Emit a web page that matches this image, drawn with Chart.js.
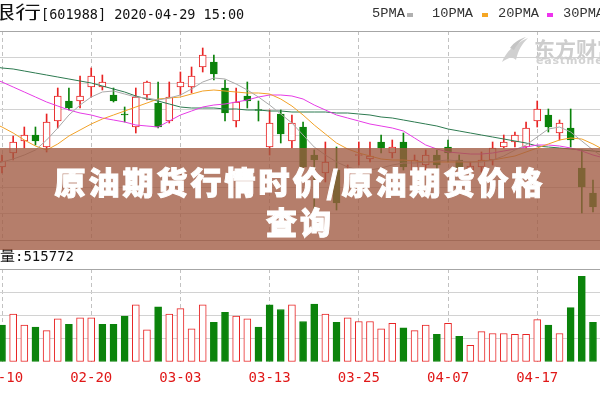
<!DOCTYPE html>
<html><head><meta charset="utf-8">
<script src="https://cdn.jsdelivr.net/npm/chart.js@4.4.1/dist/chart.umd.min.js"></script>
<style>
html,body{margin:0;padding:0;background:#fff;}
body{width:600px;height:400px;position:relative;overflow:hidden;}
canvas{position:absolute;left:0;}
#pc{top:0;}
#vc{top:250px;}
#hdr{position:absolute;left:5px;top:1px;font-family:"DejaVu Sans Mono";font-size:13.5px;line-height:20px;white-space:nowrap;color:#111;}
#hdr .cjk{font-family:"Noto Sans CJK SC";font-size:18px;display:inline-block;transform:scaleX(1.45);transform-origin:right center;}
.lg{position:absolute;top:4px;font-family:"Liberation Mono";font-size:13.7px;line-height:20px;color:#333;white-space:nowrap;}
.dash{position:absolute;top:13px;width:6px;height:4px;}
#vol{position:absolute;left:0;top:245px;font-family:"DejaVu Sans Mono";font-size:14px;line-height:20px;color:#111;white-space:nowrap;}
#vol .cjk{font-family:"Noto Sans CJK SC";font-size:15px;}
#wm1{position:absolute;left:534px;top:33px;font-family:"Noto Sans CJK SC";font-weight:700;font-size:21px;color:#cdcdcd;white-space:nowrap;}
#wm2{position:absolute;left:536px;top:54px;font-family:"DejaVu Sans";font-weight:700;font-size:11px;color:#d2d2d2;white-space:nowrap;letter-spacing:0.8px;}
#logo{position:absolute;left:500px;top:36px;}
#banner{position:absolute;left:0;top:148px;width:600px;height:102px;background:rgba(160,90,65,0.78);}
#banner div{padding-top:13px;text-align:center;color:#fff;font-family:"Noto Sans CJK SC";font-weight:900;font-size:31px;line-height:40px;letter-spacing:3px;-webkit-text-stroke:1px #fff;}
</style></head>
<body>
<canvas id="pc" width="600" height="250"></canvas>
<canvas id="vc" width="600" height="150"></canvas>
<div id="hdr"><span class="cjk">银行</span>[601988] 2020-04-29 15:00</div>
<div class="lg" style="left:372px">5PMA</div><div class="dash" style="left:407px;background:#b0b0b0"></div>
<div class="lg" style="left:432px">10PMA</div><div class="dash" style="left:482px;background:#f5a623"></div>
<div class="lg" style="left:498px">20PMA</div><div class="dash" style="left:547px;background:#ee33ee"></div>
<div class="lg" style="left:563px">30PMA</div>
<svg id="logo" width="32" height="28" viewBox="0 0 32 28"><path d="M2 26 C6 16 14 8 28 2 C22 8 18 14 16 24 C12 20 8 22 2 26 Z" fill="#d0d0d0"/><path d="M10 12 C14 6 20 3 26 1 C20 5 16 9 14 14 Z" fill="#c4c4c4"/></svg>
<div id="wm1">东方财富</div>
<div id="wm2">eastmoney</div>
<div id="vol"><span class="cjk">量</span>:515772</div>
<div id="banner"><div>原油期货行情时价/原油期货价格<br>查询</div></div>
<script>
// trading days shown (index 0 = 02-10)
const dates = ['02-10','02-11','02-12','02-13','02-14','02-17','02-18','02-19','02-20','02-21','02-24','02-25','02-26','02-27','02-28','03-02','03-03','03-04','03-05','03-06','03-09','03-10','03-11','03-12','03-13','03-16','03-17','03-18','03-19','03-20','03-23','03-24','03-25','03-26','03-27','03-30','03-31','04-01','04-02','04-03','04-07','04-08','04-09','04-10','04-13','04-14','04-15','04-16','04-17','04-20','04-21','04-22','04-23','04-24'];
const dateTicks = [0,8,16,24,32,40,48];

const open  = [3.484,3.498,3.510,3.516,3.504,3.530,3.550,3.550,3.564,3.564,3.556,3.537,3.524,3.556,3.548,3.530,3.564,3.564,3.584,3.589,3.563,3.530,3.555,3.5415,3.504,3.537,3.510,3.524,3.496,3.478,3.481,3.473,3.4955,3.492,3.509,3.498,3.509,3.479,3.486,3.496,3.504,3.491,3.481,3.484,3.491,3.504,3.509,3.504,3.530,3.536,3.518,3.523,3.483,3.458];
const high  = [3.496,3.515,3.524,3.524,3.537,3.563,3.563,3.575,3.583,3.576,3.563,3.544,3.563,3.570,3.569,3.569,3.579,3.584,3.603,3.596,3.571,3.563,3.569,3.550,3.541,3.541,3.536,3.529,3.501,3.509,3.504,3.486,3.509,3.509,3.516,3.511,3.518,3.496,3.501,3.501,3.511,3.496,3.489,3.499,3.509,3.516,3.519,3.529,3.550,3.542,3.531,3.542,3.501,3.471];
const low   = [3.478,3.491,3.503,3.506,3.499,3.523,3.541,3.543,3.554,3.561,3.549,3.529,3.518,3.551,3.523,3.528,3.556,3.558,3.579,3.571,3.530,3.524,3.543,3.530,3.496,3.508,3.503,3.481,3.438,3.469,3.441,3.468,3.486,3.489,3.498,3.493,3.481,3.473,3.481,3.479,3.489,3.479,3.477,3.479,3.486,3.503,3.504,3.503,3.524,3.519,3.511,3.504,3.438,3.439];
const close = [3.490,3.509,3.516,3.510,3.529,3.555,3.543,3.555,3.575,3.569,3.550,3.536,3.554,3.569,3.524,3.554,3.569,3.575,3.596,3.577,3.538,3.549,3.550,3.5405,3.528,3.517,3.528,3.484,3.491,3.489,3.448,3.478,3.4965,3.495,3.503,3.504,3.484,3.491,3.496,3.486,3.498,3.483,3.485,3.491,3.503,3.509,3.516,3.523,3.542,3.524,3.528,3.511,3.464,3.444];

// moving averages, first value belongs to the day before 02-10 (index -1)
const maStart = -1;
const ma5  = [3.485,3.489,3.492,3.496,3.501,3.511,3.523,3.536,3.546,3.554,3.559,3.560,3.557,3.554,3.553,3.551,3.553,3.556,3.562,3.569,3.573,3.572,3.567,3.561,3.554,3.546,3.537,3.528,3.516,3.504,3.496,3.489,3.484,3.481,3.481,3.483,3.486,3.488,3.488,3.489,3.490,3.491,3.490,3.489,3.489,3.491,3.495,3.501,3.506,3.514,3.522,3.524,3.519,3.510,3.501,3.493];
const ma10 = [3.529,3.524,3.518,3.511,3.505,3.501,3.507,3.515,3.521,3.527,3.532,3.536,3.540,3.544,3.548,3.552,3.553,3.554,3.557,3.560,3.561,3.560,3.559,3.558,3.558,3.557,3.552,3.545,3.536,3.526,3.517,3.508,3.502,3.498,3.495,3.492,3.491,3.491,3.490,3.489,3.489,3.489,3.489,3.489,3.490,3.491,3.493,3.495,3.499,3.503,3.507,3.511,3.513,3.512,3.507,3.501];
const ma20 = [3.573,3.569,3.564,3.559,3.554,3.549,3.545,3.541,3.538,3.536,3.533,3.531,3.529,3.526,3.525,3.524,3.530,3.536,3.540,3.544,3.546,3.547,3.549,3.551,3.554,3.556,3.556,3.555,3.552,3.546,3.541,3.536,3.533,3.530,3.527,3.525,3.523,3.520,3.513,3.506,3.502,3.499,3.498,3.497,3.497,3.498,3.500,3.502,3.504,3.506,3.506,3.505,3.503,3.500,3.496,3.493];
const ma30 = [3.585,3.583,3.582,3.580,3.578,3.576,3.574,3.572,3.570,3.568,3.565,3.562,3.559,3.555,3.552,3.550,3.547,3.544,3.543,3.543,3.543,3.542,3.542,3.541,3.541,3.540,3.540,3.539,3.539,3.539,3.539,3.538,3.538,3.537,3.536,3.534,3.533,3.531,3.529,3.527,3.525,3.522,3.520,3.518,3.516,3.514,3.512,3.510,3.508,3.505,3.504,3.503,3.502,3.501,3.500,3.499];

// volume (lots) and its colour flag (1 = red, 0 = green)
const volume = [400000,520000,400000,380000,340000,470000,410000,480000,480000,410000,410000,500000,620000,350000,600000,520000,580000,360000,620000,430000,540000,500000,470000,380000,620000,570000,620000,440000,630000,520000,430000,480000,440000,440000,360000,420000,370000,340000,400000,300000,420000,280000,180000,330000,310000,310000,300000,300000,460000,400000,310000,590000,930000,430000];
const volUp  = [0,1,1,0,1,1,0,1,1,0,0,0,1,1,0,1,1,1,1,0,0,1,1,0,0,0,1,0,0,1,0,1,1,1,1,1,0,1,1,0,1,0,1,1,1,1,1,1,1,0,1,0,0,0];

const priceGrid = [3.411,3.4371,3.4633,3.4894,3.5155,3.5416,3.5678,3.5939,3.620];
const volGrid = [0,252500,505000,757500,1010000];

const RED = '#e82424', GREEN = '#0b830b';
const XMIN = -0.18, XMAX = 53.63;

const idx = dates.map((_, i) => i);
const up = idx.map(i => close[i] >= open[i]);
const bodies = idx.map(i => ({x: i, y: [open[i], close[i]]}));
const wicks = idx.map(i => ({x: i, y: [low[i], high[i]]}));
const maPts = arr => arr.map((v, k) => ({x: k + maStart, y: v}));
const vols = idx.map(i => ({x: i, y: volume[i]}));

const lineDs = (arr, color, order) => ({type: 'line', data: maPts(arr), borderColor: color, borderWidth: 1, pointRadius: 0, tension: 0, order: order});

const xScale = (showLabels) => ({
  type: 'linear', min: XMIN, max: XMAX, offset: false,
  grid: {color: '#c2c2c2', drawTicks: false, offset: false, borderDash: [4, 3]},
  border: {display: false, dash: [4, 3]},
  ticks: showLabels ? {display: true, autoSkip: false, maxRotation: 0, padding: 8, color: '#e01818',
    font: {family: 'DejaVu Sans Mono', size: 14}, callback: v => dates[v]} : {display: false},
  afterBuildTicks: s => { s.ticks = dateTicks.map(v => ({value: v})); },
  afterFit: s => { s.paddingLeft = 0; s.paddingRight = 0; }
});

const common = {
  responsive: false, animation: false, devicePixelRatio: 1, events: [],
  plugins: {legend: {display: false}, tooltip: {enabled: false}}
};

new Chart(document.getElementById('pc'), {
  type: 'bar',
  data: {datasets: [
    lineDs(ma5, '#a9a9a9', -4),
    lineDs(ma10, '#f2a228', -3),
    lineDs(ma20, '#e63ce6', -2),
    lineDs(ma30, '#2d7a50', -1),
    {data: bodies, backgroundColor: up.map(u => u ? '#ffffff' : GREEN), borderColor: up.map(u => u ? RED : GREEN),
     borderWidth: 1, borderSkipped: false, barThickness: 7, grouped: false, order: 0},
    {data: wicks, backgroundColor: up.map(u => u ? RED : GREEN), borderWidth: 0, barThickness: 1, grouped: false, order: 1}
  ]},
  options: Object.assign({}, common, {
    layout: {padding: {top: 31, bottom: 10, left: 0, right: 0}},
    scales: {
      x: xScale(false),
      y: {min: priceGrid[0], max: priceGrid[priceGrid.length - 1],
        grid: {color: c => (c.index === 0 || c.index === priceGrid.length - 1) ? '#a6a6a6' : '#d2d2d2', drawTicks: false},
        border: {display: false}, ticks: {display: false},
        afterBuildTicks: s => { s.ticks = priceGrid.map(v => ({value: v})); }}
    }
  })
});

new Chart(document.getElementById('vc'), {
  type: 'bar',
  data: {datasets: [
    {data: vols, backgroundColor: volUp.map(u => u ? '#ffffff' : GREEN), borderColor: volUp.map(u => u ? RED : GREEN),
     borderWidth: 1, borderSkipped: false, barThickness: 7, grouped: false}
  ]},
  options: Object.assign({}, common, {
    layout: {padding: {top: 19, bottom: 5.2, left: 0, right: 0}},
    scales: {
      x: xScale(true),
      y: {min: volGrid[0], max: volGrid[volGrid.length - 1],
        grid: {color: c => c.index === 0 ? 'rgba(0,0,0,0)' : (c.index === volGrid.length - 1 ? '#a6a6a6' : '#d2d2d2'), drawTicks: false},
        border: {display: false}, ticks: {display: false},
        afterBuildTicks: s => { s.ticks = volGrid.map(v => ({value: v})); }}
    }
  })
});
</script>
</body></html>
